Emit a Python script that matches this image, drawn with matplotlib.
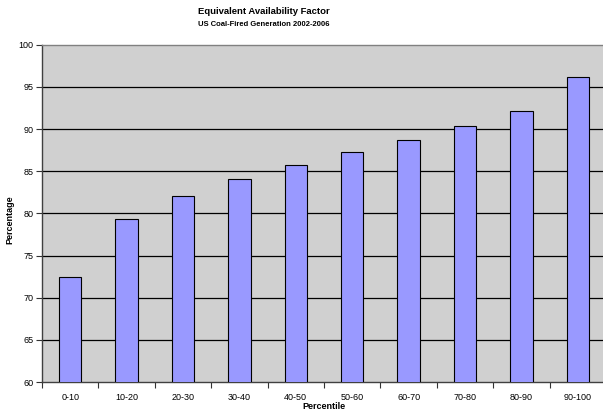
import matplotlib
matplotlib.use("Agg")
import matplotlib.pyplot as plt
import numpy as np

# data
percentiles = ['0-10', '10-20', '20-30', '30-40', '40-50',
               '50-60', '60-70', '70-80', '80-90', '90-100']
eaf = [72.4, 79.3, 82.0, 84.1, 85.7, 87.3, 88.7, 90.3, 92.1, 96.2]
y_ticks = [60, 65, 70, 75, 80, 85, 90, 95, 100]

plt.rcParams['font.family'] = ['Liberation Sans', 'DejaVu Sans']

fig = plt.figure(figsize=(6.03, 4.13), dpi=100)
W, H = 603, 413
# plot area runs slightly past the right edge, like the cropped original
ax = fig.add_axes([42 / W, 31 / H, 564 / W, 337.3 / H])
ax.set_facecolor('#d0d0d0')

x = np.arange(len(percentiles))
ax.bar(x, eaf, width=0.4, color='#9999ff', edgecolor='black',
       linewidth=0.8, zorder=3, bottom=0)

ax.set_xlim(-0.5, len(percentiles) - 0.5)
ax.set_ylim(60, 100)
ax.set_yticks(y_ticks)
for v in y_ticks[1:-1]:
    ax.axhline(v, color='black', linewidth=0.9, zorder=1)

ax.set_xticks(x)
ax.set_xticklabels(percentiles)
ax.set_xticks(np.arange(len(percentiles) + 1) - 0.5, minor=True)
ax.tick_params(axis='x', which='major', length=0, labelsize=6.5, pad=8)
ax.tick_params(axis='x', which='minor', length=4, width=0.8, color='#333333')
ax.tick_params(axis='y', length=4, width=0.8, color='#333333', labelsize=6.5, pad=2)

for side in ['left', 'bottom']:
    ax.spines[side].set_color('#404040')
    ax.spines[side].set_linewidth(1.0)
ax.spines['top'].set_color('#808080')
ax.spines['top'].set_linewidth(1.0)
ax.spines['right'].set_visible(False)

ax.set_xlabel('Percentile', fontsize=6.5, fontweight='bold', labelpad=0)
fig.text(10 / W, 1 - 220 / H, 'Percentage', rotation=90, fontsize=6.5,
         fontweight='bold', ha='center', va='center')

fig.text(264 / W, 1 - 12 / H, 'Equivalent Availability Factor', fontsize=6.8,
         fontweight='bold', ha='center', va='center')
fig.text(264 / W, 1 - 25 / H, 'US Coal-Fired Generation 2002-2006', fontsize=5.5,
         fontweight='bold', ha='center', va='center')

fig.savefig('out.png', dpi=100)
